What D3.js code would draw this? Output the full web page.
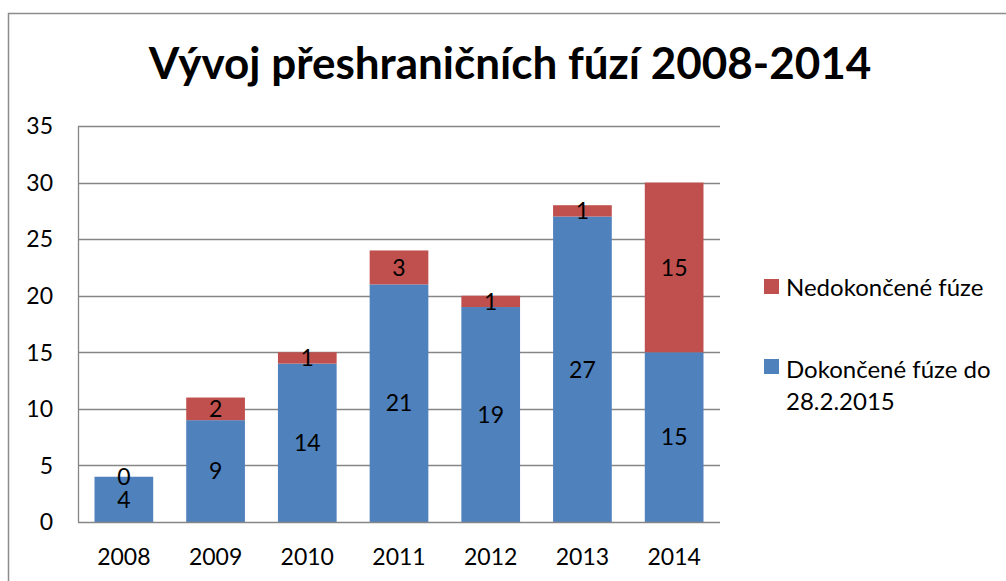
<!DOCTYPE html>
<html>
<head>
<meta charset="utf-8">
<script src="https://cdnjs.cloudflare.com/ajax/libs/d3/7.8.5/d3.min.js"></script>
<style>
  body { margin: 0; background: #fff; }
  svg { display: block; font-family: Lato, "Open Sans", sans-serif; }
</style>
</head>
<body>
<svg id="chart"></svg>
<script>
// data
const years = ["2008", "2009", "2010", "2011", "2012", "2013", "2014"];
const completed = [4, 9, 14, 21, 19, 27, 15];
const unfinished = [0, 2, 1, 3, 1, 1, 15];
const yTicks = [0, 5, 10, 15, 20, 25, 30, 35];
const seriesNames = ["Nedokončené fúze", "Dokončené fúze do 28.2.2015"];
const colors = { done: "#4f81bd", open: "#c0504d" };

const width = 1006;
const height = 581;
const margin = { top: 126, right: 286, bottom: 59, left: 78 };

const svg = d3.select("#chart")
    .attr("width", width)
    .attr("height", height);

// outer chart border (runs off the right and bottom edge)
svg.append("rect")
    .attr("x", 8.5)
    .attr("y", 13.5)
    .attr("width", 1200)
    .attr("height", 800)
    .attr("fill", "none")
    .attr("stroke", "#8c8c8c")
    .attr("stroke-width", 1.5);

svg.append("text")
    .attr("x", 510)
    .attr("y", 79)
    .attr("text-anchor", "middle")
    .attr("font-size", "44px")
    .attr("font-weight", "bold")
    .attr("fill", "#000")
    .text("Vývoj přeshraničních fúzí 2008-2014");

const x = d3.scaleBand()
    .domain(years)
    .range([margin.left, width - margin.right])
    .paddingInner(0.36)
    .paddingOuter(0.18);

const y = d3.scaleLinear()
    .domain([0, 35])
    .range([height - margin.bottom, margin.top]);

// gridlines
svg.append("g")
    .selectAll("line")
    .data(yTicks.filter(d => d > 0))
    .join("line")
    .attr("x1", margin.left)
    .attr("x2", width - margin.right)
    .attr("y1", d => Math.round(y(d)) + 0.5)
    .attr("y2", d => Math.round(y(d)) + 0.5)
    .attr("stroke", "#868686")
    .attr("stroke-width", 1.3);

// y axis labels
svg.append("g")
    .selectAll("text")
    .data(yTicks)
    .join("text")
    .attr("x", 53)
    .attr("y", d => y(d))
    .attr("dy", "0.36em")
    .attr("text-anchor", "end")
    .attr("font-size", "23px")
    .attr("fill", "#000")
    .text(d => d);

const rows = years.map((yr, i) => ({ year: yr, done: completed[i], open: unfinished[i] }));

// stacked bars
const bars = svg.append("g");
bars.selectAll("rect.done")
    .data(rows)
    .join("rect")
    .attr("class", "done")
    .attr("x", d => x(d.year))
    .attr("width", x.bandwidth())
    .attr("y", d => y(d.done))
    .attr("height", d => y(0) - y(d.done))
    .attr("fill", colors.done);

bars.selectAll("rect.open")
    .data(rows)
    .join("rect")
    .attr("class", "open")
    .attr("x", d => x(d.year))
    .attr("width", x.bandwidth())
    .attr("y", d => y(d.done + d.open))
    .attr("height", d => y(d.done) - y(d.done + d.open))
    .attr("fill", colors.open);

// value labels
const labels = svg.append("g")
    .attr("font-size", "23px")
    .attr("fill", "#000")
    .attr("text-anchor", "middle");

labels.selectAll("text.done")
    .data(rows)
    .join("text")
    .attr("class", "done")
    .attr("x", d => x(d.year) + x.bandwidth() / 2)
    .attr("y", d => y(d.done / 2))
    .attr("dy", "0.36em")
    .text(d => d.done);

labels.selectAll("text.open")
    .data(rows)
    .join("text")
    .attr("class", "open")
    .attr("x", d => x(d.year) + x.bandwidth() / 2)
    .attr("y", d => y(d.done + d.open / 2))
    .attr("dy", "0.36em")
    .text(d => d.open);

// axes lines
svg.append("line")
    .attr("x1", margin.left + 0.5)
    .attr("x2", margin.left + 0.5)
    .attr("y1", y(35))
    .attr("y2", y(0))
    .attr("stroke", "#868686")
    .attr("stroke-width", 1.3);

svg.append("line")
    .attr("x1", margin.left)
    .attr("x2", width - margin.right)
    .attr("y1", Math.round(y(0)) + 0.5)
    .attr("y2", Math.round(y(0)) + 0.5)
    .attr("stroke", "#868686")
    .attr("stroke-width", 1.3);

// x axis labels
svg.append("g")
    .selectAll("text")
    .data(years)
    .join("text")
    .attr("x", d => x(d) + x.bandwidth() / 2)
    .attr("y", 565)
    .attr("text-anchor", "middle")
    .attr("font-size", "23px")
    .attr("fill", "#000")
    .text(d => d);

// legend
const legend = svg.append("g").attr("font-size", "24px").attr("fill", "#000");

legend.append("rect")
    .attr("x", 764).attr("y", 279)
    .attr("width", 15).attr("height", 15)
    .attr("fill", colors.open);
legend.append("text")
    .attr("x", 786).attr("y", 287).attr("dy", "0.36em")
    .text(seriesNames[0]);

legend.append("rect")
    .attr("x", 764).attr("y", 359)
    .attr("width", 15).attr("height", 15)
    .attr("fill", colors.done);
legend.append("text")
    .attr("x", 786).attr("y", 369).attr("dy", "0.36em")
    .text("Dokončené fúze do");
legend.append("text")
    .attr("x", 786).attr("y", 401).attr("dy", "0.36em")
    .text("28.2.2015");
</script>
</body>
</html>
